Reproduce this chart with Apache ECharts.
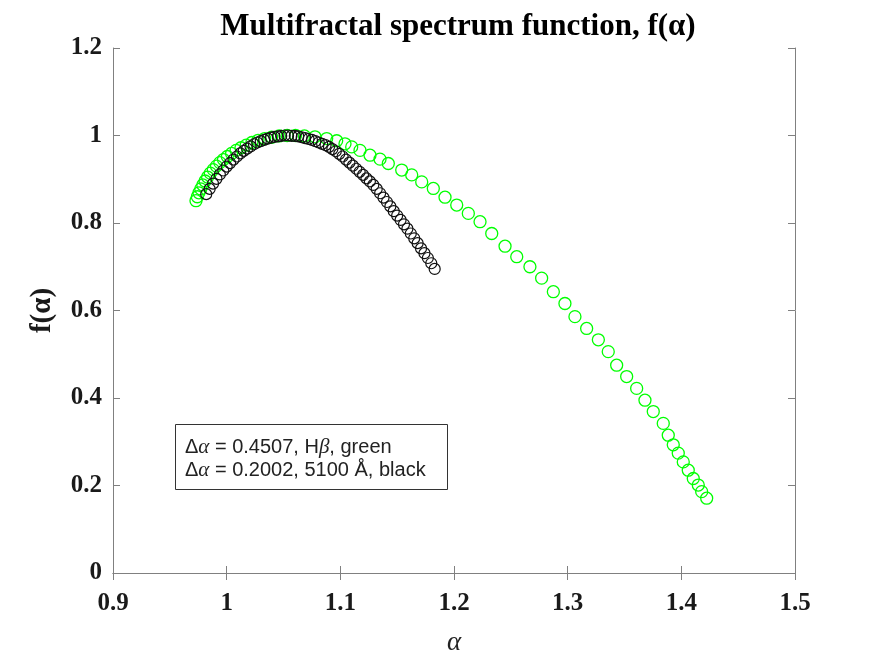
<!DOCTYPE html>
<html>
<head>
<meta charset="utf-8">
<title>Multifractal spectrum</title>
<script src="https://cdn.jsdelivr.net/npm/echarts@6/dist/echarts.min.js"></script>
<style>
  html, body { margin: 0; padding: 0; background: #fff; }
  #chart { width: 875px; height: 657px; }
</style>
</head>
<body>
<div id="chart"></div>
<script>
// H-beta (green) : alpha, f(alpha)
var greenAlpha = [
  0.9730, 0.9742, 0.9756, 0.9772, 0.9790, 0.9810, 0.9832, 0.9856, 0.9882, 0.9910,
  0.9940, 0.9972, 1.0006, 1.0043, 1.0083, 1.0126, 1.0172, 1.0222, 1.0276, 1.0334,
  1.0396, 1.0462, 1.0532, 1.0606, 1.0684, 1.0777, 1.0880, 1.0968, 1.1041, 1.1100,
  1.1173, 1.1261, 1.1349, 1.1422, 1.1540, 1.1628, 1.1716, 1.1818, 1.1921, 1.2024,
  1.2126, 1.2229, 1.2332, 1.2449, 1.2552, 1.2668, 1.2771, 1.2874, 1.2976, 1.3064,
  1.3167, 1.3270, 1.3357, 1.3431, 1.3519, 1.3607, 1.3680, 1.3753, 1.3841, 1.3885,
  1.3929, 1.3973, 1.4017, 1.4061, 1.4105, 1.4149, 1.4179, 1.4223
];
var greenF = [
  0.851, 0.860, 0.869, 0.878, 0.887, 0.896, 0.905, 0.914, 0.922, 0.930,
  0.938, 0.945, 0.952, 0.959, 0.966, 0.972, 0.978, 0.984, 0.989, 0.993,
  0.996, 0.999, 1.000, 1.000, 0.999, 0.997, 0.993, 0.988, 0.981, 0.974,
  0.966, 0.955, 0.946, 0.936, 0.921, 0.910, 0.894, 0.879, 0.859, 0.841,
  0.822, 0.803, 0.776, 0.747, 0.723, 0.700, 0.674, 0.643, 0.616, 0.586,
  0.559, 0.533, 0.506, 0.475, 0.449, 0.422, 0.395, 0.369, 0.342, 0.315,
  0.293, 0.274, 0.254, 0.235, 0.216, 0.201, 0.186, 0.171
];

// 5100 A (black)
var blackAlpha = [
  0.982, 0.985, 0.988, 0.991, 0.994, 0.997, 1.000, 1.003, 1.006, 1.009,
  1.012, 1.015, 1.018, 1.021, 1.024, 1.027, 1.030, 1.033, 1.036, 1.039,
  1.042, 1.045, 1.048, 1.051, 1.054, 1.057, 1.060, 1.063, 1.066, 1.069,
  1.072, 1.075, 1.078, 1.081, 1.084, 1.087, 1.090, 1.093, 1.096, 1.099,
  1.102, 1.105, 1.108, 1.111, 1.114, 1.117, 1.120, 1.123, 1.126, 1.129,
  1.132, 1.135, 1.138, 1.141, 1.144, 1.147, 1.150, 1.153, 1.156, 1.159,
  1.162, 1.165, 1.168, 1.171, 1.174, 1.177, 1.180, 1.183
];
var blackF = [
  0.866, 0.878, 0.890, 0.901, 0.911, 0.920, 0.929, 0.937, 0.945, 0.952,
  0.959, 0.965, 0.970, 0.975, 0.980, 0.984, 0.987, 0.990, 0.993, 0.995,
  0.997, 0.998, 0.999, 1.000, 1.000, 0.999, 0.999, 0.998, 0.996, 0.994,
  0.992, 0.990, 0.987, 0.984, 0.981, 0.978, 0.974, 0.969, 0.964, 0.958,
  0.952, 0.945, 0.938, 0.931, 0.924, 0.917, 0.910, 0.902, 0.895, 0.887,
  0.878, 0.868, 0.858, 0.848, 0.838, 0.827, 0.817, 0.807, 0.797, 0.787,
  0.776, 0.765, 0.754, 0.742, 0.731, 0.720, 0.708, 0.695
];

var legendLines = [
  'Δ{g|α} = 0.4507, H{g|β}, green',
  'Δ{g|α} = 0.2002, 5100 Å, black'
];

function pairs(xs, ys) {
  var out = [];
  for (var i = 0; i < xs.length; i++) out.push([xs[i], ys[i]]);
  return out;
}

var serif = "'Liberation Serif', 'DejaVu Serif', serif";
var axisGray = '#808080';

var chart = echarts.init(document.getElementById('chart'));
chart.setOption({
  backgroundColor: '#fff',
  animation: false,
  title: {
    text: 'Multifractal spectrum function, f(α)',
    left: 453,
    textAlign: 'center',
    top: 6,
    textStyle: { fontFamily: serif, fontWeight: 'bold', fontSize: 31, color: '#000' }
  },
  grid: { left: 113, right: 80, top: 48, bottom: 84, outerBoundsMode: 'none', containLabel: false },
  xAxis: [
    {
      type: 'value', min: 0.9, max: 1.5, interval: 0.1,
      name: 'α', nameLocation: 'middle', nameGap: 56,
      nameTextStyle: { fontFamily: serif, fontStyle: 'italic', fontSize: 27, color: '#222' },
      axisLine: { lineStyle: { color: axisGray } },
      axisTick: { inside: true, length: 7, lineStyle: { color: axisGray } },
      axisLabel: {
        margin: 18, color: '#1a1a1a', fontFamily: serif, fontWeight: 'bold', fontSize: 25,
        formatter: function (v) { return String(+v.toFixed(1)); }
      },
      splitLine: { show: false }
    },
    {
      type: 'value', position: 'top', min: 0.9, max: 1.5, interval: 0.1,
      axisLine: { lineStyle: { color: axisGray } },
      axisTick: { inside: true, length: 7, lineStyle: { color: axisGray } },
      axisLabel: { show: false },
      splitLine: { show: false }
    }
  ],
  yAxis: [
    {
      type: 'value', min: 0, max: 1.2, interval: 0.2,
      name: 'f(α)', nameLocation: 'middle', nameGap: 56, nameRotate: 90,
      nameTextStyle: { fontFamily: serif, fontWeight: 'bold', fontSize: 29, color: '#1a1a1a' },
      axisLine: { show: true, lineStyle: { color: axisGray } },
      axisTick: { show: true, inside: true, length: 7, lineStyle: { color: axisGray } },
      axisLabel: {
        margin: 11, color: '#1a1a1a', fontFamily: serif, fontWeight: 'bold', fontSize: 25,
        formatter: function (v) { return String(+v.toFixed(1)); }
      },
      splitLine: { show: false }
    },
    {
      type: 'value', position: 'right', min: 0, max: 1.2, interval: 0.2,
      axisLine: { show: true, lineStyle: { color: axisGray } },
      axisTick: { show: true, inside: true, length: 7, lineStyle: { color: axisGray } },
      axisLabel: { show: false },
      splitLine: { show: false }
    }
  ],
  series: [
    {
      name: 'Hβ', type: 'scatter', symbol: 'circle', symbolSize: 12,
      data: pairs(greenAlpha, greenF),
      itemStyle: { color: 'rgba(0,0,0,0)', borderColor: '#00ff00', borderWidth: 1.3, opacity: 1 }
    },
    {
      name: '5100', type: 'scatter', symbol: 'circle', symbolSize: 11,
      data: pairs(blackAlpha, blackF),
      itemStyle: { color: 'rgba(0,0,0,0)', borderColor: '#111', borderWidth: 1.2, opacity: 1 }
    }
  ],
  graphic: [
    {
      type: 'rect', left: 175, top: 424,
      shape: { width: 272, height: 65 },
      style: { fill: '#fff', stroke: '#333', lineWidth: 1 }
    },
    {
      type: 'text', left: 185, top: 436,
      style: {
        text: legendLines.join('\n'),
        fontFamily: "'Liberation Sans', Arial, sans-serif",
        fontSize: 20, lineHeight: 23, fill: '#222',
        rich: {
          g: { fontFamily: serif, fontStyle: 'italic', fontSize: 21, fill: '#222' }
        }
      }
    }
  ]
});
</script>
</body>
</html>
